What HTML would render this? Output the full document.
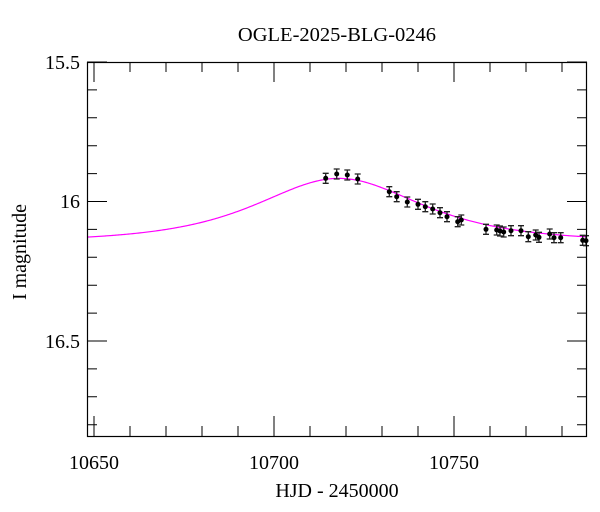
<!DOCTYPE html>
<html><head><meta charset="utf-8"><style>
html,body{margin:0;padding:0;background:#fff}
svg{display:block;font-family:"Liberation Serif",serif}
</style></head><body>
<svg id="s" width="600" height="512" viewBox="0 0 600 512">
<text x="337" y="41" font-size="20.5" text-anchor="middle">OGLE-2025-BLG-0246</text>
<g id="ticks" stroke="#000" stroke-width="1"></g>
<path id="curve" fill="none" stroke="#ff00ff" stroke-width="1.2"/>
<g id="pts"></g>
<rect x="87.5" y="62.5" width="499" height="374" fill="none" stroke="#000" stroke-width="1.2"/>
<g font-size="20">
<text x="80" y="69" text-anchor="end">15.5</text>
<text x="80" y="208" text-anchor="end">16</text>
<text x="80" y="348" text-anchor="end">16.5</text>
<text x="94" y="469" text-anchor="middle">10650</text>
<text x="274" y="469" text-anchor="middle">10700</text>
<text x="454" y="469" text-anchor="middle">10750</text>
<text x="337" y="497" text-anchor="middle">HJD - 2450000</text>
<text transform="translate(26,252) rotate(-90)" text-anchor="middle">I magnitude</text>
</g>
</svg>
<script>
var X=function(t){return 94+(t-10650)*3.6};
var Y=function(m){return 62+(m-15.5)*279};
var ns="http://www.w3.org/2000/svg",tk="";
for(var t=10650;t<=10780;t+=10){var x=X(t),L=(t%50==0)?20:10;
tk+="M"+x+" 436V"+(436-L)+"M"+x+" 62V"+(62+L);}
for(var i=0;i<=13;i++){var m=15.5+i*0.1,y=Y(m);var L=(i%5==0)?20:10;
tk+="M87 "+y+"H"+(87+L)+"M587 "+y+"H"+(587-L);}
var p=document.createElementNS(ns,"path");p.setAttribute("d",tk);document.getElementById("ticks").appendChild(p);
var d="";for(var x=88;x<=587;x+=1){var t=10650+(x-94)/3.6;var tau=(t-10718)/25,u0=1.19;var u=Math.sqrt(u0*u0+tau*tau);
var A=(u*u+2)/(u*Math.sqrt(u*u+4));var m=16.145-2.5*Math.log10(A);d+=(d?"L":"M")+x+" "+Y(m).toFixed(2);}
document.getElementById("curve").setAttribute("d",d);
var P=[[325.7,178.3],[336.7,174],[347.3,175],[357.7,179],[389.3,191.7],[396.7,196.7],[407.3,202],[418,204.3],[425.3,206.7],[432.7,209],[440,212.7],[447,216.7],[457.7,221.7],[461.3,220],[486,229.3],[496.7,230],[500,231],[503.7,232],[511,230.7],[521,230.7],[528.3,236.7],[535.7,235],[539,237.3],[549.7,234],[554,237.7],[560.7,237.7],[582.7,240.3],[586,240.7]];
var g="";P.forEach(function(q){var x=q[0],y=q[1];
g+='<path d="M'+x+' '+(y-5)+'V'+(y+5)+'M'+(x-3)+' '+(y-5)+'H'+(x+3)+'M'+(x-3)+' '+(y+5)+'H'+(x+3)+'" stroke="#222" stroke-width="1.3"/><circle cx="'+x+'" cy="'+y+'" r="2.5" fill="#000"/>';});
document.getElementById("pts").innerHTML=g;
</script>
</body></html>
